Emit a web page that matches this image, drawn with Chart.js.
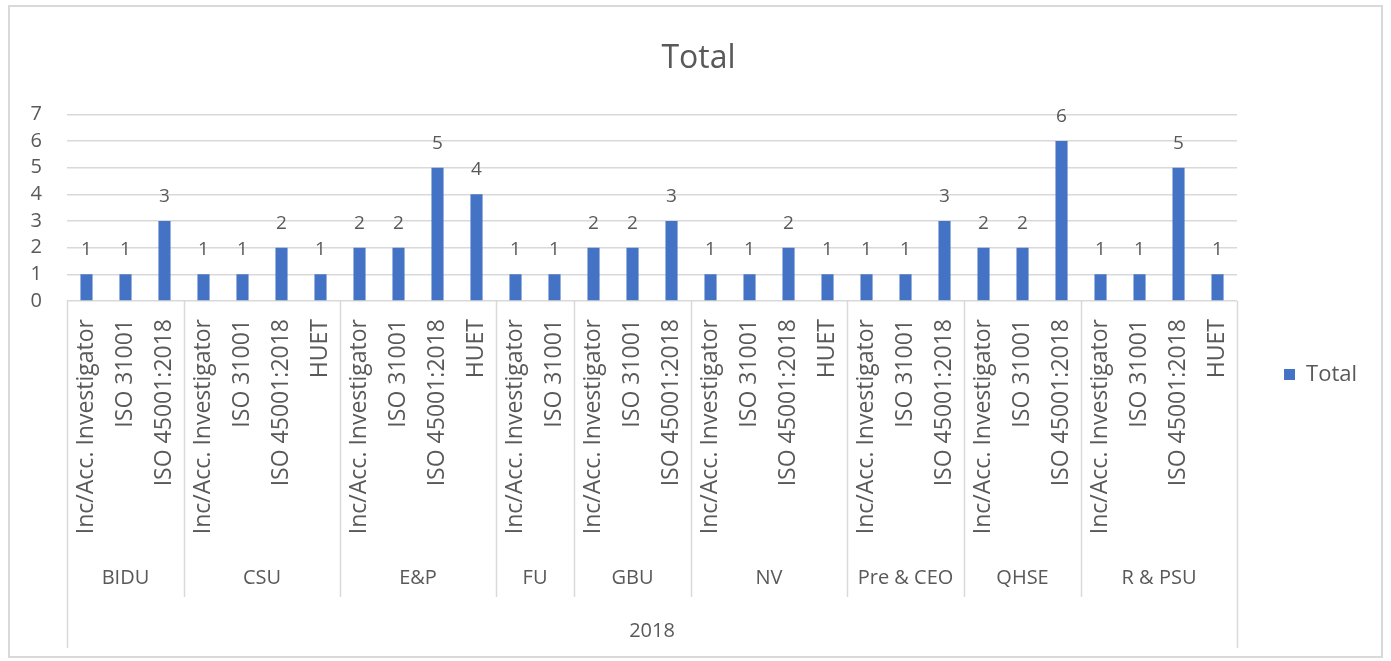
<!DOCTYPE html>
<html>
<head>
<meta charset="utf-8">
<script src="https://cdn.jsdelivr.net/npm/chart.js@4/dist/chart.umd.min.js"></script>
<style>
    html, body { margin: 0; padding: 0; background: #fff; overflow: hidden; }
    #frame {
        position: absolute; left: 8px; top: 5px;
        width: 1375px; height: 653px;
        border: 2px solid #d9d9d9; box-sizing: border-box;
    }
    #frame canvas { display: block; }
</style>
</head>
<body>
<div id="frame"><canvas id="chart"></canvas></div>
<script>
// --- data ---
const groupLabels = ['BIDU', 'CSU', 'E&P', 'FU', 'GBU', 'NV', 'Pre & CEO', 'QHSE', 'R & PSU'];
const groupSizes = [3, 4, 4, 2, 3, 4, 3, 3, 4];
const courseLabels = [
    'Inc/Acc. Investigator', 'ISO 31001', 'ISO 45001:2018',
    'Inc/Acc. Investigator', 'ISO 31001', 'ISO 45001:2018', 'HUET',
    'Inc/Acc. Investigator', 'ISO 31001', 'ISO 45001:2018', 'HUET',
    'Inc/Acc. Investigator', 'ISO 31001',
    'Inc/Acc. Investigator', 'ISO 31001', 'ISO 45001:2018',
    'Inc/Acc. Investigator', 'ISO 31001', 'ISO 45001:2018', 'HUET',
    'Inc/Acc. Investigator', 'ISO 31001', 'ISO 45001:2018',
    'Inc/Acc. Investigator', 'ISO 31001', 'ISO 45001:2018',
    'Inc/Acc. Investigator', 'ISO 31001', 'ISO 45001:2018', 'HUET'
];
const totals = [
    1, 1, 3,
    1, 1, 2, 1,
    2, 2, 5, 4,
    1, 1,
    2, 2, 3,
    1, 1, 2, 1,
    1, 1, 3,
    2, 2, 6,
    1, 1, 5, 1
];
const yearLabel = '2018';
const yTicks = [0, 1, 2, 3, 4, 5, 6, 7];

const FONT = "'Open Sans', sans-serif";
const TEXT = '#595959';
const LINE = '#d9d9d9';

// value labels above the bars
const valueLabels = {
    id: 'valueLabels',
    afterDatasetsDraw(chart) {
        const ctx = chart.ctx;
        const meta = chart.getDatasetMeta(0);
        ctx.save();
        ctx.font = '19px ' + FONT;
        ctx.fillStyle = TEXT;
        ctx.textAlign = 'center';
        ctx.textBaseline = 'alphabetic';
        meta.data.forEach((bar, i) => {
            ctx.fillText(String(totals[i]), bar.x, bar.y - 19);
        });
        ctx.restore();
    }
};

// Excel-style multi-level category axis: group names, separators, year row
const groupAxis = {
    id: 'groupAxis',
    afterDraw(chart) {
        const ctx = chart.ctx;
        const x = chart.scales.x;
        const top = chart.chartArea.bottom;
        const sepBottom = x.bottom - 51;
        const groupY = x.bottom - 70;
        const yearY = x.bottom - 17;
        ctx.save();
        ctx.strokeStyle = LINE;
        ctx.lineWidth = 1.5;
        ctx.fillStyle = TEXT;
        ctx.textAlign = 'center';
        ctx.textBaseline = 'middle';
        ctx.font = '20px ' + FONT;

        let start = 0;
        groupSizes.forEach((n, g) => {
            const x0 = x.getPixelForValue(start - 0.5);
            const x1 = x.getPixelForValue(start + n - 0.5);
            if (g > 0) {
                ctx.beginPath();
                ctx.moveTo(Math.round(x0) + 0.5, top);
                ctx.lineTo(Math.round(x0) + 0.5, sepBottom);
                ctx.stroke();
            }
            ctx.fillText(groupLabels[g], (x0 + x1) / 2, groupY);
            start += n;
        });

        const left = x.getPixelForValue(-0.5);
        const right = x.getPixelForValue(totals.length - 0.5);
        [left, right].forEach(px => {
            ctx.beginPath();
            ctx.moveTo(Math.round(px) + 0.5, top);
            ctx.lineTo(Math.round(px) + 0.5, x.bottom);
            ctx.stroke();
        });
        ctx.fillText(yearLabel, (left + right) / 2, yearY);
        ctx.restore();
    }
};

new Chart(document.getElementById('chart'), {
    type: 'bar',
    data: {
        labels: courseLabels,
        datasets: [{
            label: 'Total',
            data: totals,
            backgroundColor: '#4472C4',
            borderWidth: 0,
            categoryPercentage: 1,
            barPercentage: 0.31
        }]
    },
    options: {
        responsive: true,
        maintainAspectRatio: false,
        animation: false,
        layout: { padding: { left: 20, right: 14, top: 0, bottom: 8 } },
        plugins: {
            title: {
                display: true,
                text: 'Total',
                color: TEXT,
                font: { family: FONT, size: 32, weight: 'normal' },
                padding: { top: 33, bottom: 36 }
            },
            legend: {
                display: true,
                position: 'right',
                // blank legend title just pushes the entry down to mid-plot
                title: { display: true, text: ' ', font: { size: 20 }, padding: { top: 0, bottom: 70 } },
                labels: {
                    color: TEXT,
                    font: { family: FONT, size: 22 },
                    boxWidth: 11,
                    boxHeight: 11,
                    padding: 10
                }
            },
            tooltip: { enabled: false }
        },
        scales: {
            x: {
                grid: { display: false, drawTicks: false },
                border: { display: false },
                ticks: {
                    color: TEXT,
                    font: { family: FONT, size: 23 },
                    autoSkip: false,
                    minRotation: 90,
                    maxRotation: 90,
                    padding: 18
                },
                afterFit(scale) { scale.height = 347; }
            },
            y: {
                min: 0,
                max: 7,
                grid: { color: LINE, lineWidth: 1.5, drawTicks: false },
                border: { display: false },
                afterBuildTicks(scale) {
                    scale.ticks = yTicks.map(v => ({ value: v }));
                },
                ticks: {
                    color: TEXT,
                    font: { family: FONT, size: 20 },
                    autoSkip: false,
                    padding: 25
                },
                afterFit(scale) { scale.width = 37; }
            },
            // empty right axis: only reserves the gap between plot and legend
            gap: {
                position: 'right',
                display: true,
                grid: { display: false, drawTicks: false },
                border: { display: false },
                ticks: { display: false },
                afterFit(scale) { scale.width = 37; }
            }
        }
    },
    plugins: [valueLabels, groupAxis]
});
</script>
</body>
</html>
